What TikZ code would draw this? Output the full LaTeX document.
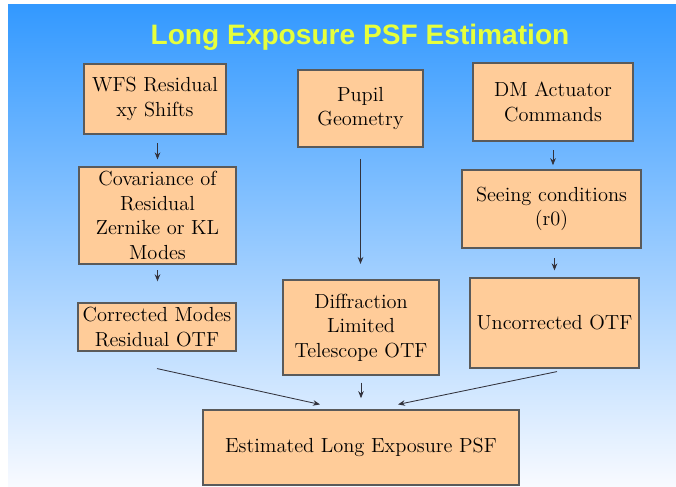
\documentclass[tikz,border=0pt]{standalone}
\usepackage{fontspec}
\newfontfamily\titlefont{Liberation Sans}
\usetikzlibrary{arrows.meta,calc}
\definecolor{skyblue}{RGB}{51,153,255}
\definecolor{paleblue}{RGB}{248,250,255}
\definecolor{peach}{RGB}{255,204,153}
\definecolor{boxline}{RGB}{90,90,90}
\definecolor{titleyellow}{RGB}{230,255,60}
\definecolor{arrowgray}{RGB}{50,50,60}
\begin{document}
\begin{tikzpicture}[x=0.025cm, y=-0.025cm,
		blk/.style={draw=boxline, line width=0.8pt, fill=peach, inner sep=0, align=center,
			font=\rmfamily\fontsize{14.5}{17.5}\selectfont},
		arr/.style={draw=arrowgray, line width=0.6pt, -{Stealth[length=5pt,width=4pt]}}]
		\useasboundingbox (0,0) rectangle (676,486);
		\shade[top color=skyblue, bottom color=paleblue] (8,5) rectangle (676,486);
		\node (title) at (360,37) [font=\titlefont\bfseries\fontsize{20}{24}\selectfont, text=titleyellow] {Long Exposure PSF Estimation};
		% top row
		\node (wfs) at (155,99) [blk, minimum width=3.55cm, minimum height=1.75cm] {WFS Residual\\xy Shifts};
		\node (pupil) at (360.5,108.5) [blk, minimum width=3.125cm, minimum height=1.925cm] {Pupil\\Geometry};
		\node (dm) at (553,102) [blk, minimum width=4cm, minimum height=1.95cm] {DM Actuator\\Commands};
		% middle row
		\node (cov) at (157.5,215.5) [blk, minimum width=3.925cm, minimum height=2.425cm] {Covariance of\\Residual\\Zernike or KL\\Modes};
		\node (seeing) at (551.5,209) [blk, minimum width=4.475cm, minimum height=1.95cm] {Seeing conditions\\(r0)};
		% OTF row
		\node (cor) at (157,327) [blk, minimum width=3.95cm, minimum height=1.2cm] {Corrected Modes\\Residual OTF};
		\node (dif) at (361,327.5) [blk, minimum width=3.9cm, minimum height=2.375cm] {Diffraction\\Limited\\Telescope OTF};
		\node (unc) at (554.5,323) [blk, minimum width=4.225cm, minimum height=2.25cm] {Uncorrected OTF};
		% result
		\node (est) at (361,447.5) [blk, minimum width=7.9cm, minimum height=1.875cm] {Estimated Long Exposure PSF};
		% arrows
		\draw[arr, shorten <=6, shorten >=5] (wfs.south -| cov.north) -- (cov.north);
		\draw[arr, shorten <=4, shorten >=15] (cov.south) -- (cov.south |- cor.north);
		\draw[arr, shorten <=8, shorten >=11] (pupil.south) -- (pupil.south |- dif.north);
		\draw[arr, shorten <=5, shorten >=8] (dif.south) -- (dif.south |- est.north);
		\draw[arr, shorten <=6, shorten >=3] (dm.south) -- (dm.south |- seeing.north);
		\draw[arr, shorten <=7, shorten >=5] (seeing.south -| unc.north) -- (unc.north);
		\draw[arr] ($(cor.south)+(0,17)$) -- ($(est.north)+(-41,-5)$);
		\draw[arr] ($(unc.south)+(2.5,3)$) -- ($(est.north)+(37,-5)$);
	\end{tikzpicture}
\end{document}
